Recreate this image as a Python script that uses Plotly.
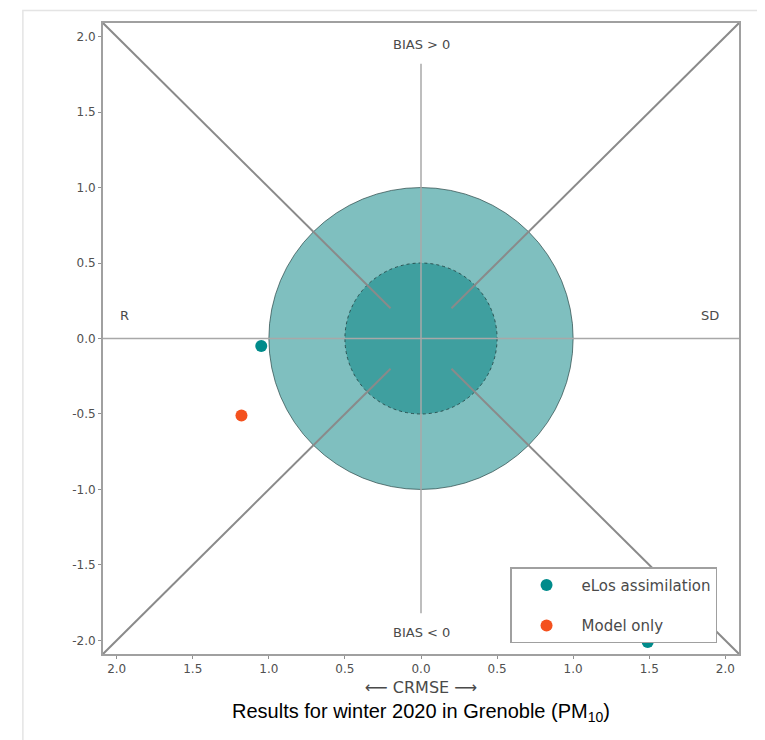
import plotly.graph_objects as go

# ---- data ----
tick_vals = [-2.0, -1.5, -1.0, -0.5, 0.0, 0.5, 1.0, 1.5, 2.0]
x_tick_text = ["2.0", "1.5", "1.0", "0.5", "0.0", "0.5", "1.0", "1.5", "2.0"]
y_tick_text = ["-2.0", "-1.5", "-1.0", "-0.5", "0.0", "0.5", "1.0", "1.5", "2.0"]

elos_x = [-1.05, 1.49]
elos_y = [-0.05, -2.01]
model_x = [-1.18]
model_y = [-0.51]

circle_radii = [1.0, 0.5]
axis_lim = 2.09
diag_inner = 0.2
vline_half = 1.82

teal = "#008b8b"
orange = "#f4511e"
line_grey = "#8a8a8a"

fig = go.Figure()

fig.add_trace(go.Scatter(
    x=elos_x, y=elos_y, mode="markers", name="eLos assimilation",
    marker=dict(color=teal, size=12), legendgroup="a"))
fig.add_trace(go.Scatter(
    x=model_x, y=model_y, mode="markers", name="Model only",
    marker=dict(color=orange, size=12), legendgroup="b"))

shapes = []
r_out, r_in = circle_radii
shapes.append(dict(type="circle", xref="x", yref="y", x0=-r_out, x1=r_out, y0=-r_out, y1=r_out,
                   fillcolor="rgba(0,128,128,0.5)", line=dict(color="rgba(40,70,70,0.7)", width=1),
                   layer="below"))
shapes.append(dict(type="circle", xref="x", yref="y", x0=-r_in, x1=r_in, y0=-r_in, y1=r_in,
                   fillcolor="rgba(0,128,128,0.5)", line=dict(color="rgba(30,60,60,0.8)", width=1, dash="dot"),
                   layer="below"))
shapes.append(dict(type="line", xref="x", yref="y", x0=-axis_lim, x1=axis_lim, y0=0, y1=0,
                   line=dict(color="#a8a8a8", width=1.5), layer="below"))
shapes.append(dict(type="line", xref="x", yref="y", x0=0, x1=0, y0=-vline_half, y1=vline_half,
                   line=dict(color="#a8a8a8", width=1.5), layer="below"))
for sx in (-1, 1):
    for sy in (-1, 1):
        shapes.append(dict(type="line", xref="x", yref="y",
                           x0=sx * axis_lim, y0=sy * axis_lim, x1=sx * diag_inner, y1=sy * diag_inner,
                           line=dict(color=line_grey, width=2), layer="below"))
# faint screenshot frame
shapes.append(dict(type="rect", xref="paper", yref="paper", x0=-0.126, x1=1.037, y0=-0.2, y1=1.02,
                   line=dict(color="#e4e4e4", width=1.5), layer="below"))
shapes.append(dict(type="line", xref="paper", yref="paper", x0=-0.159, x1=-0.159, y0=-0.12, y1=0.55,
                   line=dict(color="#f0f0f0", width=1.5), layer="below"))

lab_font = dict(family="DejaVu Sans", size=13, color="#4a4a4a")
annotations = [
    dict(x=0, y=1.95, xref="x", yref="y", text="BIAS > 0", showarrow=False, font=lab_font),
    dict(x=0, y=-1.95, xref="x", yref="y", text="BIAS < 0", showarrow=False, font=lab_font),
    dict(x=-1.95, y=0.15, xref="x", yref="y", text="R", showarrow=False, font=lab_font),
    dict(x=1.9, y=0.15, xref="x", yref="y", text="SD", showarrow=False, font=lab_font),
    dict(x=0.5, y=-0.092, xref="paper", yref="paper", yanchor="middle",
         text="Results for winter 2020 in Grenoble (PM<sub>10</sub>)", showarrow=False,
         font=dict(family="Liberation Sans, Arial", size=20, color="black")),
]

axis_common = dict(
    range=[-axis_lim, axis_lim], tickvals=tick_vals, showgrid=False, zeroline=False,
    showline=True, linecolor="#a0a0a0", linewidth=2, mirror=True,
    ticks="outside", ticklen=3, tickcolor="#909090",
    tickfont=dict(family="DejaVu Sans", size=12, color="#505050"),
)

fig.update_layout(
    width=757, height=732,
    margin=dict(l=95, r=26, t=15, b=86),
    plot_bgcolor="white", paper_bgcolor="white",
    shapes=shapes, annotations=annotations,
    xaxis=dict(axis_common, ticktext=x_tick_text,
               title=dict(text="⟵ CRMSE ⟶", standoff=6,
                          font=dict(family="DejaVu Sans", size=16, color="#4a4a4a"))),
    yaxis=dict(axis_common, ticktext=y_tick_text),
    legend=dict(x=0.64, y=0.017, xanchor="left", yanchor="bottom",
                bgcolor="white", bordercolor="#a0a0a0", borderwidth=1.5,
                font=dict(family="DejaVu Sans", size=15, color="#4a4a4a"),
                tracegroupgap=18, itemsizing="constant", itemwidth=60,
                entrywidth=230),
    showlegend=True,
)

fig.write_html("out.html")
